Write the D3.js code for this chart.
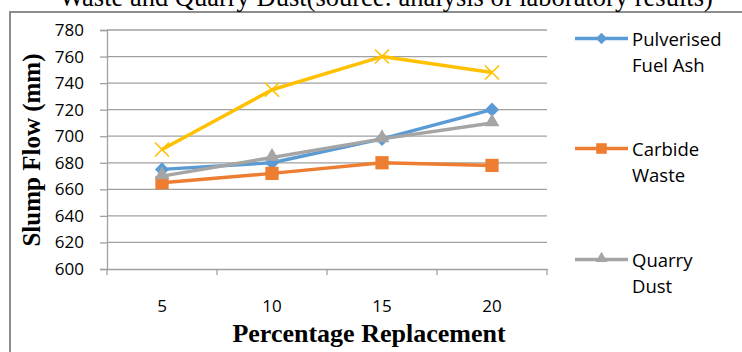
<!DOCTYPE html>
<html>
<head>
<meta charset="utf-8">
<script src="https://cdn.jsdelivr.net/npm/d3@7"></script>
<style>
  html, body { margin: 0; padding: 0; background: #fff; }
  svg { display: block; }
</style>
</head>
<body>
<svg id="chart" width="742" height="352"></svg>
<script>
// Percentage replacement categories
const categories = ["5", "10", "15", "20"];
// Slump flow (mm) for each replacement material
const pfaValues = [675, 680, 698, 720];
const carbideValues = [665, 672, 680, 678];
const quarryValues = [670, 684, 698, 710];
const controlValues = [690, 735, 760, 748];
// Y axis ticks
const yTicks = [600, 620, 640, 660, 680, 700, 720, 740, 760, 780];

const seriesNames = ["Pulverised Fuel Ash", "Carbide Waste", "Quarry Dust", ""];
const seriesColors = ["#5B9BD5", "#ED7D31", "#A5A5A5", "#FFC000"];
const seriesMarkers = ["diamond", "square", "triangle", "x"];
const seriesValues = [pfaValues, carbideValues, quarryValues, controlValues];

const svg = d3.select("#chart");
const W = 742, H = 352;
const plot = { left: 107, right: 547, top: 30, bottom: 269 };
const sansFont = "'Open Sans', 'Liberation Sans', sans-serif";
const serifFont = "'Liberation Serif', 'Times New Roman', serif";

// outer frame
svg.append("rect")
  .attr("x", 10).attr("y", 12)
  .attr("width", W + 20).attr("height", H + 20)
  .attr("fill", "none").attr("stroke", "#8c8c8c").attr("stroke-width", 2);

// title (partly clipped at the top)
svg.append("text")
  .attr("x", 386).attr("y", 6)
  .attr("text-anchor", "middle")
  .attr("font-family", serifFont)
  .attr("font-size", 26.5)
  .text("Waste and Quarry Dust(source: analysis of laboratory results)");

const x = d3.scaleBand().domain(categories).range([plot.left, plot.right]);
const y = d3.scaleLinear().domain([600, 780]).range([plot.bottom, plot.top]);

// horizontal gridlines
svg.append("g").selectAll("line").data(yTicks.filter(d => d !== 600)).join("line")
  .attr("x1", plot.left).attr("x2", plot.right)
  .attr("y1", d => y(d)).attr("y2", d => y(d))
  .attr("stroke", "#a0a0a0").attr("stroke-width", 1.3);

// y axis
const yAxis = svg.append("g")
  .attr("transform", `translate(${plot.left},0)`)
  .call(d3.axisLeft(y).tickValues(yTicks).tickSize(7).tickPadding(16).tickFormat(d3.format("d")));
yAxis.select(".domain").attr("stroke", "#a0a0a0").attr("stroke-width", 1.3);
yAxis.selectAll(".tick line").attr("stroke", "#a0a0a0").attr("stroke-width", 1.3);
yAxis.selectAll(".tick text")
  .attr("font-family", sansFont)
  .attr("font-size", 17).attr("fill", "#000");

// x axis
const xAxis = svg.append("g")
  .attr("transform", `translate(0,${plot.bottom})`)
  .call(d3.axisBottom(x).tickSize(0).tickPadding(31));
xAxis.select(".domain").attr("stroke", "#a0a0a0").attr("stroke-width", 1.3);
xAxis.selectAll(".tick text")
  .attr("font-family", sansFont)
  .attr("font-size", 17).attr("fill", "#000");
// category boundary ticks
const bounds = categories.map(c => x(c)).concat([x(categories[categories.length - 1]) + x.bandwidth()]);
svg.append("g").selectAll("line").data(bounds).join("line")
  .attr("x1", d => d).attr("x2", d => d)
  .attr("y1", plot.bottom).attr("y2", plot.bottom + 6)
  .attr("stroke", "#a0a0a0").attr("stroke-width", 1.3);

// axis titles
svg.append("text")
  .attr("x", 369).attr("y", 342)
  .attr("text-anchor", "middle")
  .attr("font-family", serifFont)
  .attr("font-weight", "bold").attr("font-size", 26)
  .text("Percentage Replacement");

svg.append("text")
  .attr("transform", "translate(40,150) rotate(-90)")
  .attr("text-anchor", "middle")
  .attr("font-family", serifFont)
  .attr("font-weight", "bold").attr("font-size", 25)
  .text("Slump Flow (mm)");

// marker drawing; k scales the marker size
function drawMarker(g, type, color, k) {
  if (type === "diamond") {
    g.append("path").attr("d", d3.symbol(d3.symbolSquare, 100 * k * k)())
      .attr("fill", color).attr("transform", "rotate(45)");
  } else if (type === "square") {
    g.append("path").attr("d", d3.symbol(d3.symbolSquare, 175 * k * k)()).attr("fill", color);
  } else if (type === "triangle") {
    g.append("path").attr("d", d3.symbol(d3.symbolTriangle, 95 * k * k)()).attr("fill", color)
      .attr("transform", "translate(0,-1)");
  } else if (type === "x") {
    const r = 7 * k;
    g.append("path").attr("d", `M${-r},${-r}L${r},${r}M${-r},${r}L${r},${-r}`)
      .attr("stroke", color).attr("stroke-width", 1.6).attr("fill", "none");
  }
}

const line = d3.line()
  .x((d, i) => x(categories[i]) + x.bandwidth() / 2)
  .y(d => y(d));

// series lines and markers
seriesValues.forEach((vals, s) => {
  const g = svg.append("g");
  g.append("path").datum(vals).attr("d", line)
    .attr("fill", "none").attr("stroke", seriesColors[s])
    .attr("stroke-width", 3.4).attr("stroke-linejoin", "round");
  vals.forEach((v, i) => {
    const m = g.append("g").attr("transform",
      `translate(${x(categories[i]) + x.bandwidth() / 2},${y(v)})`);
    drawMarker(m, seriesMarkers[s], seriesColors[s], 1);
  });
});

// legend
const legendY = [38.5, 148.5, 259.5];
const legendLines = [["Pulverised", "Fuel Ash"], ["Carbide", "Waste"], ["Quarry", "Dust"]];
legendY.forEach((ly, s) => {
  const g = svg.append("g");
  g.append("line").attr("x1", 575).attr("x2", 628).attr("y1", ly).attr("y2", ly)
    .attr("stroke", seriesColors[s]).attr("stroke-width", 3.4);
  const m = g.append("g").attr("transform", `translate(601.5,${ly})`);
  drawMarker(m, seriesMarkers[s], seriesColors[s], 0.8);
  const t = g.append("text")
    .attr("font-family", sansFont)
    .attr("font-size", 18.5).attr("fill", "#000");
  legendLines[s].forEach((txt, k) => {
    t.append("tspan").attr("x", 632).attr("y", ly + 7 + k * 26).text(txt);
  });
});
</script>
</body>
</html>
